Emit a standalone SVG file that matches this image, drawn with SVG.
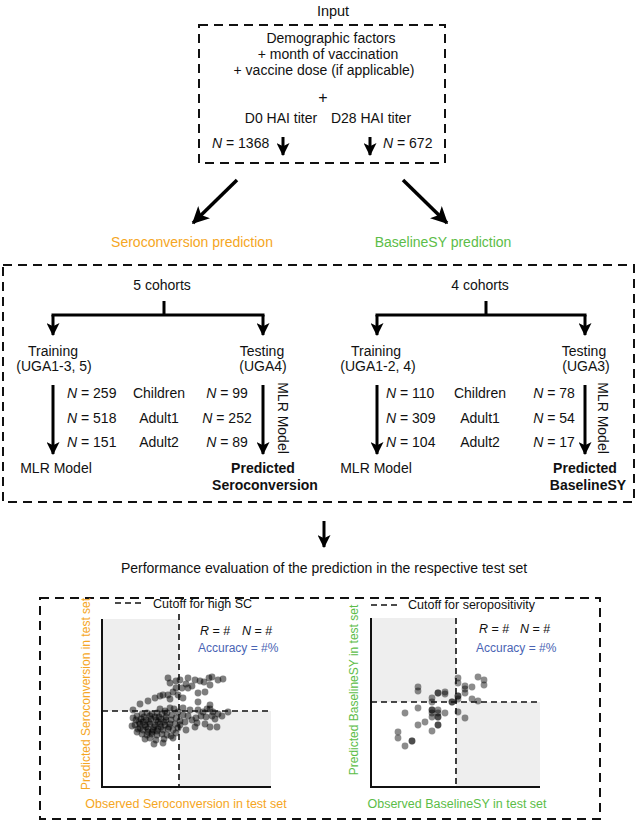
<svg xmlns="http://www.w3.org/2000/svg" width="637" height="824" viewBox="0 0 637 824">
<style>
text{font-family:"Liberation Sans",Arial,sans-serif;font-size:14px;fill:#111}
.c{text-anchor:middle}
.b{font-weight:bold}
.i{font-style:italic}
.box{fill:none;stroke:#111;stroke-width:2;stroke-dasharray:9 6}
.ln{fill:none;stroke:#000;stroke-width:3}
.big{fill:none;stroke:#000;stroke-width:3.5}
.ax{fill:none;stroke:#111;stroke-width:2}
.cut{fill:none;stroke:#111;stroke-width:1.6;stroke-dasharray:6 4}
.sh{fill:#eeeeee}
.sm{font-size:12.5px}
.or{fill:#f5a623}
.gr{fill:#5cbd48}
.bl{fill:#4a64b4;font-size:12px}
.pt circle{fill:#000;fill-opacity:0.5;r:3.4}
.pt2 circle{fill:#000;fill-opacity:0.45;r:3.4}
</style>
<defs>
<marker id="ah" viewBox="0 0 12 12" refX="11" refY="6" markerWidth="13" markerHeight="13" markerUnits="userSpaceOnUse" orient="auto">
<path d="M0,0 L12,6 L0,12 L3,6 z" fill="#000"/>
</marker>
<marker id="ahb" viewBox="0 0 12 12" refX="11" refY="6" markerWidth="17" markerHeight="17" markerUnits="userSpaceOnUse" orient="auto">
<path d="M0,0 L12,6 L0,12 L3,6 z" fill="#000"/>
</marker>
</defs>

<g id="input">
<text class="c" x="333" y="16" style="font-size:14.5px">Input</text>
<rect class="box" x="199" y="25" width="246" height="138"/>
<text class="c" x="331" y="43">Demographic factors</text>
<text class="c" x="328" y="59">+ month of vaccination</text>
<text class="c" x="324" y="75">+ vaccine dose (if applicable)</text>
<text class="c" x="323" y="103" style="font-size:16px">+</text>
<text class="c" x="281" y="123">D0 HAI titer</text>
<text class="c" x="371" y="123">D28 HAI titer</text>
<text x="212" y="148"><tspan class="i">N</tspan> = 1368</text>
<text x="383" y="148"><tspan class="i">N</tspan> = 672</text>
</g>

<g id="labels">
<text class="c or" x="192" y="247">Seroconversion prediction</text>
<text class="c gr" x="443" y="247">BaselineSY prediction</text>
</g>

<g id="seroconversion">
<text class="c" x="162" y="290">5 cohorts</text>
<text class="c" x="53" y="356">Training</text>
<text class="c" x="54" y="371">(UGA1-3, 5)</text>
<text class="c" x="262" y="356">Testing</text>
<text class="c" x="263" y="371">(UGA4)</text>
<text x="67" y="398"><tspan class="i">N</tspan> = 259</text>
<text x="67" y="423"><tspan class="i">N</tspan> = 518</text>
<text x="67" y="447"><tspan class="i">N</tspan> = 151</text>
<text class="c" x="159" y="398">Children</text>
<text class="c" x="159" y="423">Adult1</text>
<text class="c" x="159" y="447">Adult2</text>
<text class="c" x="227" y="398"><tspan class="i">N</tspan> = 99</text>
<text class="c" x="227" y="423"><tspan class="i">N</tspan> = 252</text>
<text class="c" x="227" y="447"><tspan class="i">N</tspan> = 89</text>
<text class="c" x="278" y="418" transform="rotate(90 278 418)">MLR Model</text>
<text class="c" x="56" y="473">MLR Model</text>
<text class="c b" x="263" y="473">Predicted</text>
<text class="c b" x="265" y="490">Seroconversion</text>
</g>

<g id="baselinesy">
<text class="c" x="480" y="290">4 cohorts</text>
<text class="c" x="376" y="356">Training</text>
<text class="c" x="378" y="371">(UGA1-2, 4)</text>
<text class="c" x="584" y="356">Testing</text>
<text class="c" x="586" y="371">(UGA3)</text>
<text x="386" y="398"><tspan class="i">N</tspan> = 110</text>
<text x="386" y="423"><tspan class="i">N</tspan> = 309</text>
<text x="386" y="447"><tspan class="i">N</tspan> = 104</text>
<text class="c" x="480" y="398">Children</text>
<text class="c" x="480" y="423">Adult1</text>
<text class="c" x="480" y="447">Adult2</text>
<text class="c" x="554" y="398"><tspan class="i">N</tspan> = 78</text>
<text class="c" x="554" y="423"><tspan class="i">N</tspan> = 54</text>
<text class="c" x="554" y="447"><tspan class="i">N</tspan> = 17</text>
<text class="c" x="598" y="418" transform="rotate(90 598 418)">MLR Model</text>
<text class="c" x="376" y="473">MLR Model</text>
<text class="c b" x="585" y="473">Predicted</text>
<text class="c b" x="588" y="490">BaselineSY</text>
</g>

<g id="middle-box">
<rect class="box" x="3" y="265" width="631" height="237"/>
</g>

<g id="connectors">
<path class="ln" d="M283,137 V155" marker-end="url(#ah)"/>
<path class="ln" d="M370,137 V155" marker-end="url(#ah)"/>
<path class="big" d="M237,180 L193,223" marker-end="url(#ahb)"/>
<path class="big" d="M403,180 L447,223" marker-end="url(#ahb)"/>
<path class="ln" d="M164,301 V315 M51.5,315 H264.5"/>
<path class="ln" d="M53,315 V335" marker-end="url(#ah)"/>
<path class="ln" d="M263,315 V335" marker-end="url(#ah)"/>
<path class="ln" d="M53,385 V454" marker-end="url(#ah)"/>
<path class="ln" d="M263,385 V454" marker-end="url(#ah)"/>
<path class="ln" d="M486,301 V315 M375.5,315 H586.5"/>
<path class="ln" d="M377,315 V335" marker-end="url(#ah)"/>
<path class="ln" d="M585,315 V335" marker-end="url(#ah)"/>
<path class="ln" d="M377,385 V454" marker-end="url(#ah)"/>
<path class="ln" d="M585,385 V454" marker-end="url(#ah)"/>
<path class="ln" d="M324,521 V547" marker-end="url(#ah)"/>
</g>

<g id="evaluation">
<text class="c" x="324" y="573">Performance evaluation of the prediction in the respective test set</text>
<rect class="box" x="40" y="598" width="560" height="221"/>
</g>

<g id="chart-sc">
<rect class="sh" x="102" y="619" width="77" height="92"/>
<rect class="sh" x="179" y="711" width="92" height="76"/>
<path class="cut" d="M115,603 H142"/>
<text class="sm" x="153" y="608">Cutoff for high SC</text>
<text class="sm" x="200" y="635"><tspan class="i">R</tspan> = #</text>
<text class="sm" x="242" y="635"><tspan class="i">N</tspan> = #</text>
<text class="bl" x="198" y="652">Accuracy = #%</text>
<g class="pt">
<circle cx="168" cy="678"/><circle cx="170" cy="683"/><circle cx="188" cy="678"/><circle cx="195" cy="680"/><circle cx="200" cy="681"/><circle cx="204" cy="682"/><circle cx="209" cy="678"/><circle cx="212" cy="677"/><circle cx="218" cy="680"/><circle cx="223" cy="679"/><circle cx="210" cy="685"/><circle cx="180" cy="680"/><circle cx="182" cy="688"/><circle cx="188" cy="688"/><circle cx="176" cy="688"/><circle cx="173" cy="692"/><circle cx="178" cy="695"/><circle cx="183" cy="698"/><circle cx="198" cy="693"/><circle cx="205" cy="692"/><circle cx="168" cy="695"/><circle cx="170" cy="699"/><circle cx="163" cy="695"/><circle cx="160" cy="696"/><circle cx="155" cy="698"/><circle cx="148" cy="701"/><circle cx="140" cy="704"/><circle cx="198" cy="702"/><circle cx="210" cy="705"/><circle cx="210" cy="709"/><circle cx="186" cy="684"/><circle cx="192" cy="686"/><circle cx="176" cy="681"/>
<circle cx="133" cy="710"/><circle cx="170" cy="708"/><circle cx="174" cy="709"/><circle cx="183" cy="708"/><circle cx="190" cy="710"/><circle cx="198" cy="710"/><circle cx="203" cy="712"/><circle cx="213" cy="712"/><circle cx="218" cy="714"/><circle cx="228" cy="712"/><circle cx="160" cy="709"/><circle cx="165" cy="711"/><circle cx="178" cy="712"/><circle cx="207" cy="709"/>
<circle cx="137" cy="716"/><circle cx="142" cy="714"/><circle cx="147" cy="713"/><circle cx="152" cy="714"/><circle cx="157" cy="713"/><circle cx="162" cy="714"/><circle cx="167" cy="713"/><circle cx="172" cy="715"/><circle cx="136" cy="720"/><circle cx="141" cy="719"/><circle cx="146" cy="720"/><circle cx="151" cy="719"/><circle cx="156" cy="720"/><circle cx="161" cy="719"/><circle cx="166" cy="720"/><circle cx="171" cy="720"/><circle cx="176" cy="718"/><circle cx="135" cy="725"/><circle cx="140" cy="724"/><circle cx="145" cy="725"/><circle cx="150" cy="724"/><circle cx="155" cy="725"/><circle cx="160" cy="724"/><circle cx="165" cy="725"/><circle cx="170" cy="724"/><circle cx="175" cy="724"/><circle cx="138" cy="729"/><circle cx="143" cy="730"/><circle cx="148" cy="729"/><circle cx="153" cy="730"/><circle cx="158" cy="729"/><circle cx="163" cy="730"/><circle cx="168" cy="729"/><circle cx="173" cy="730"/><circle cx="142" cy="734"/><circle cx="147" cy="735"/><circle cx="152" cy="734"/><circle cx="157" cy="735"/><circle cx="162" cy="734"/><circle cx="167" cy="735"/><circle cx="145" cy="739"/><circle cx="150" cy="738"/><circle cx="156" cy="740"/><circle cx="164" cy="739"/><circle cx="171" cy="736"/><circle cx="178" cy="728"/><circle cx="180" cy="721"/><circle cx="133" cy="718"/><circle cx="132" cy="726"/><circle cx="140" cy="728"/><circle cx="154" cy="727"/><circle cx="149" cy="722"/><circle cx="159" cy="717"/><circle cx="144" cy="717"/><circle cx="164" cy="722"/><circle cx="169" cy="727"/><circle cx="139" cy="722"/><circle cx="152" cy="732"/><circle cx="158" cy="722"/><circle cx="146" cy="727"/><circle cx="143" cy="722"/><circle cx="155" cy="717"/><circle cx="161" cy="727"/><circle cx="148" cy="732"/><circle cx="166" cy="717"/><circle cx="137" cy="732"/><circle cx="150" cy="716"/><circle cx="157" cy="731"/>
<circle cx="183" cy="715"/><circle cx="188" cy="716"/><circle cx="192" cy="720"/><circle cx="196" cy="718"/><circle cx="201" cy="716"/><circle cx="206" cy="717"/><circle cx="212" cy="716"/><circle cx="197" cy="723"/><circle cx="205" cy="724"/><circle cx="210" cy="727"/><circle cx="217" cy="727"/><circle cx="180" cy="725"/><circle cx="185" cy="722"/><circle cx="176" cy="733"/><circle cx="173" cy="738"/><circle cx="163" cy="743"/><circle cx="186" cy="730"/><circle cx="195" cy="727"/><circle cx="215" cy="719"/><circle cx="222" cy="716"/><circle cx="154" cy="744"/>
</g>
<path class="ax" d="M102,619 V787 H271"/>
<path class="cut" d="M179,614 V787 M102,711 H271"/>
<text class="c or" x="90" y="694" style="font-size:12px" transform="rotate(-90 90 694)">Predicted Seroconversion in test set</text>
<text class="c or sm" x="186" y="808">Observed Seroconversion in test set</text>
</g>

<g id="chart-sy">
<rect class="sh" x="371" y="618" width="85" height="84"/>
<rect class="sh" x="456" y="702" width="84" height="85"/>
<path class="cut" d="M371,605 H398"/>
<text class="sm" x="408" y="609">Cutoff for seropositivity</text>
<text class="sm" x="479" y="633"><tspan class="i">R</tspan> = #</text>
<text class="sm" x="520" y="633"><tspan class="i">N</tspan> = #</text>
<text class="bl" x="476" y="652">Accuracy = #%</text>
<g class="pt2">
<circle cx="418" cy="687"/><circle cx="418" cy="691"/><circle cx="432" cy="698"/><circle cx="438" cy="693"/><circle cx="438" cy="693"/><circle cx="445" cy="692"/><circle cx="445" cy="694"/><circle cx="452" cy="702"/><circle cx="452" cy="702"/><circle cx="458" cy="678"/><circle cx="458" cy="683"/><circle cx="465" cy="686"/><circle cx="465" cy="689"/><circle cx="465" cy="693"/><circle cx="472" cy="687"/><circle cx="478" cy="677"/><circle cx="484" cy="680"/><circle cx="484" cy="685"/><circle cx="458" cy="696"/><circle cx="458" cy="696"/><circle cx="458" cy="699"/><circle cx="472" cy="699"/><circle cx="478" cy="701"/><circle cx="432" cy="702"/><circle cx="405" cy="713"/><circle cx="418" cy="708"/><circle cx="432" cy="710"/><circle cx="432" cy="710"/><circle cx="432" cy="713"/><circle cx="432" cy="717"/><circle cx="438" cy="710"/><circle cx="438" cy="713"/><circle cx="438" cy="717"/><circle cx="438" cy="717"/><circle cx="445" cy="713"/><circle cx="458" cy="712"/><circle cx="465" cy="718"/><circle cx="418" cy="725"/><circle cx="425" cy="722"/><circle cx="438" cy="725"/><circle cx="438" cy="725"/><circle cx="432" cy="731"/><circle cx="398" cy="732"/><circle cx="398" cy="738"/><circle cx="412" cy="741"/><circle cx="412" cy="741"/><circle cx="405" cy="746"/>
</g>
<path class="ax" d="M371,618 V787 H540"/>
<path class="cut" d="M456,618 V787 M371,702 H540"/>
<text class="c gr" x="358" y="690" style="font-size:12px" transform="rotate(-90 358 690)">Predicted BaselineSY in test set</text>
<text class="c gr sm" x="457" y="808">Observed BaselineSY in test set</text>
</g>
</svg>
